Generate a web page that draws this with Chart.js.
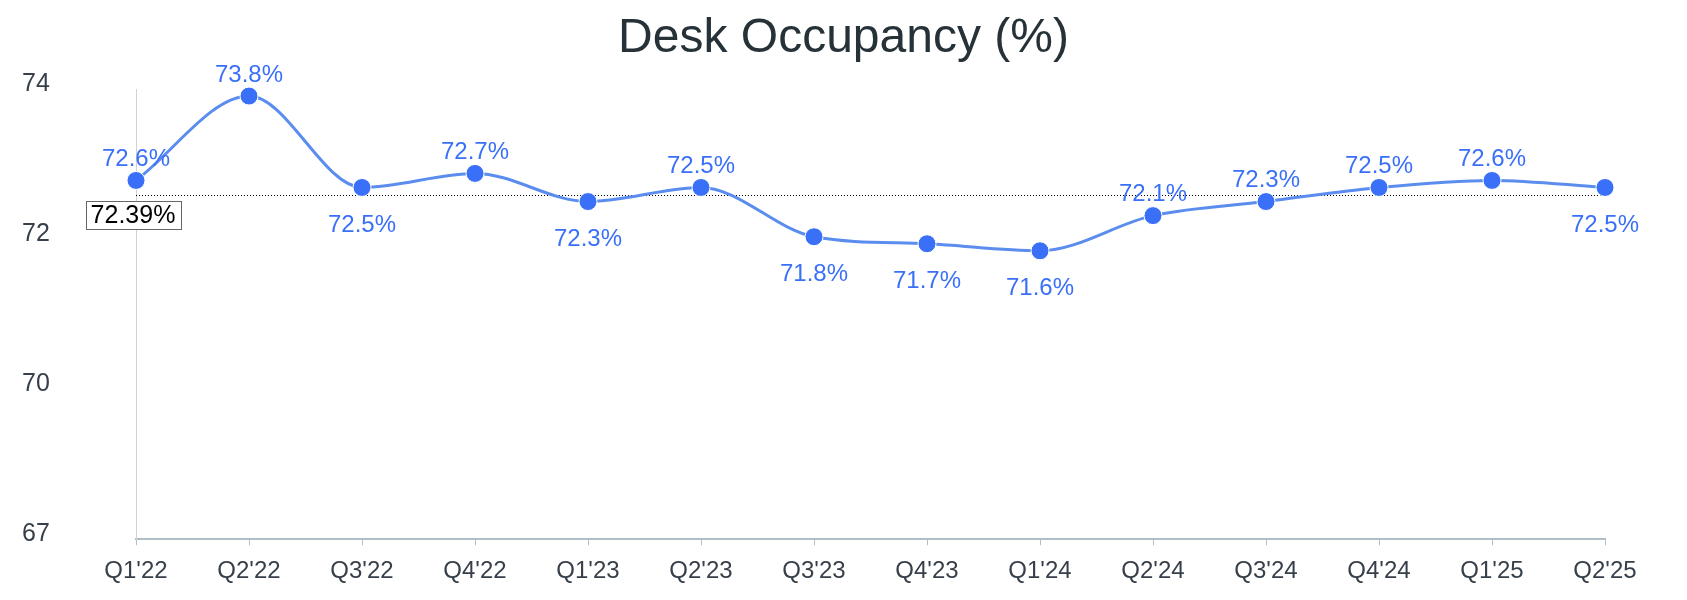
<!DOCTYPE html>
<html>
<head>
<meta charset="utf-8">
<title>Desk Occupancy</title>
<script src="https://cdn.jsdelivr.net/npm/chart.js@4/dist/chart.umd.min.js"></script>
<style>
  html, body { margin: 0; padding: 0; background: #fff; }
  #chart { display: block; }
</style>
</head>
<body>
<canvas id="chart" width="1687" height="600"></canvas>
<script>
// quarters on the x axis
const quarters = ["Q1'22", "Q2'22", "Q3'22", "Q4'22", "Q1'23", "Q2'23", "Q3'23",
                  "Q4'23", "Q1'24", "Q2'24", "Q3'24", "Q4'24", "Q1'25", "Q2'25"];
// occupancy in %
const occupancy = [72.6, 73.8, 72.5, 72.7, 72.3, 72.5, 71.8, 71.7, 71.6, 72.1, 72.3, 72.5, 72.6, 72.5];
// y axis as shown in the picture
const yTickLabels = ['67', '70', '72', '74'];
const yMin = 67.5;
const yMax = 73.9;

const avg = occupancy.reduce((a, b) => a + b, 0) / occupancy.length;

const FONT = "'Liberation Sans', Arial, Helvetica, sans-serif";
const blue = '#3a6ff8';

// title (centred on the whole canvas), value labels, average line
const overlay = {
  id: 'overlay',
  beforeDatasetsDraw(chart) {
    const { ctx, chartArea, scales: { y } } = chart;
    ctx.save();
    ctx.font = '48px ' + FONT;
    ctx.fillStyle = '#263238';
    ctx.textAlign = 'center';
    ctx.textBaseline = 'alphabetic';
    ctx.fillText('Desk Occupancy (%)', chart.width / 2, 52);

    const yy = Math.round(y.getPixelForValue(avg)) + 0.5;
    ctx.strokeStyle = '#000';
    ctx.lineWidth = 1;
    ctx.setLineDash([1, 2]);
    ctx.beginPath();
    ctx.moveTo(chartArea.left, yy);
    ctx.lineTo(chartArea.right, yy);
    ctx.stroke();
    ctx.restore();
  },
  afterDatasetsDraw(chart) {
    const { ctx, chartArea, scales: { y } } = chart;
    const pts = chart.getDatasetMeta(0).data;
    ctx.save();
    ctx.font = '24px ' + FONT;
    ctx.fillStyle = blue;
    ctx.textAlign = 'center';
    ctx.textBaseline = 'middle';
    pts.forEach((p, i) => {
      const up = i === 0 || occupancy[i] >= occupancy[i - 1];
      ctx.fillText(occupancy[i].toFixed(1) + '%', p.x, up ? p.y - 21 : p.y + 38);
    });

    // average box
    const txt = avg.toFixed(2) + '%';
    ctx.font = '25px ' + FONT;
    const w = ctx.measureText(txt).width + 10;
    const h = 28;
    const cx = chartArea.left - 3;
    const cy = y.getPixelForValue(avg) + 20;
    ctx.fillStyle = '#fff';
    ctx.fillRect(cx - w / 2, cy - h / 2, w, h);
    ctx.strokeStyle = '#666';
    ctx.lineWidth = 1;
    ctx.strokeRect(Math.round(cx - w / 2) + 0.5, Math.round(cy - h / 2) + 0.5, Math.round(w), h);
    ctx.fillStyle = '#000';
    ctx.fillText(txt, cx, cy + 1);
    ctx.restore();
  }
};

new Chart(document.getElementById('chart'), {
  type: 'line',
  data: {
    labels: quarters,
    datasets: [{
      data: occupancy,
      borderColor: '#5b8def',
      borderWidth: 3,
      cubicInterpolationMode: 'monotone',
      pointRadius: 9,
      pointBackgroundColor: blue,
      pointBorderColor: '#fff',
      pointBorderWidth: 1,
      clip: false,
      fill: false
    }]
  },
  options: {
    responsive: false,
    animation: false,
    devicePixelRatio: 1,
    layout: { padding: { left: 22, right: 82, top: 89, bottom: 2 } },
    plugins: {
      legend: { display: false },
      tooltip: { enabled: false },
      title: { display: false }
    },
    scales: {
      x: {
        offset: false,
        grid: { display: true, drawOnChartArea: false, drawTicks: true, tickLength: 6, color: '#b0bec5' },
        border: { color: '#b0bec5', width: 2 },
        ticks: { color: '#37404a', padding: 12, font: { family: FONT, size: 24 }, maxRotation: 0, autoSkip: false }
      },
      y: {
        min: yMin,
        max: yMax,
        grid: { display: false },
        border: { display: true, color: '#d2d2d2', width: 1, dash: [3, 3] },
        afterBuildTicks(scale) {
          const n = yTickLabels.length;
          scale.ticks = yTickLabels.map((_, i) => ({ value: yMin + i * (yMax - yMin) / (n - 1) }));
        },
        afterFit(scale) { scale.width = 114; },
        ticks: {
          color: '#37404a',
          crossAlign: 'far',
          labelOffset: -5,
          padding: 0,
          font: { family: FONT, size: 25 },
          callback: (v, i) => yTickLabels[i]
        }
      }
    }
  },
  plugins: [overlay]
});
</script>
</body>
</html>
